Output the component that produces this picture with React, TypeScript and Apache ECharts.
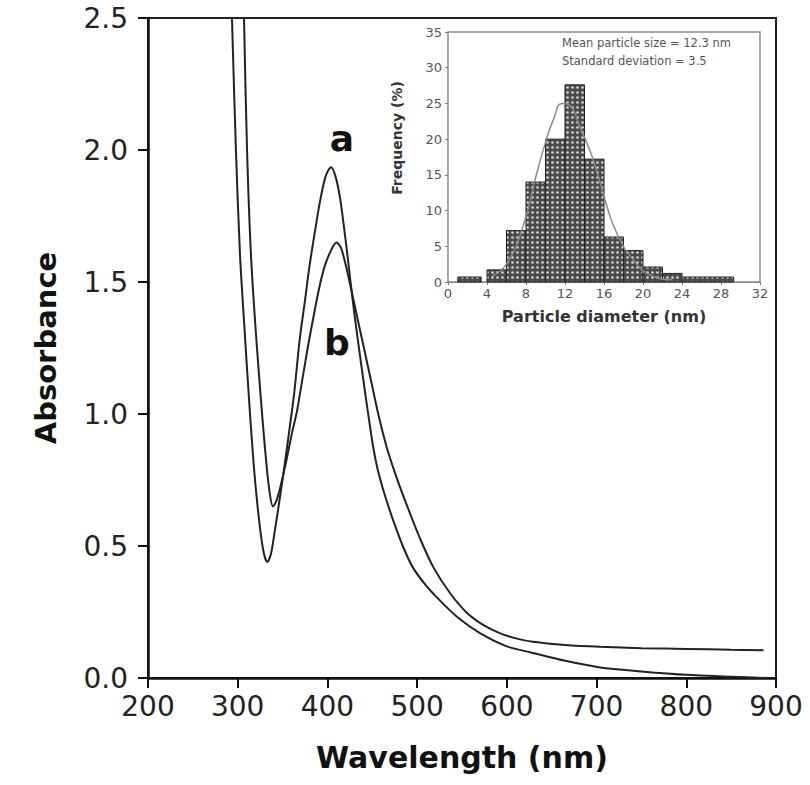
import React, { useEffect, useRef } from "react";
import * as echarts from "echarts";

// Main UV-vis spectra (wavelength in nm, absorbance)
const waveA = [293.6, 298, 302.6, 308, 313.7, 319.3, 324.8, 329.3, 333, 337, 341, 346, 352, 358, 363, 369, 375, 380, 386, 392, 398, 404, 409, 414, 418, 422, 430, 440, 445, 451, 456, 462, 468, 473, 484, 495, 510, 525, 545, 570, 600, 629, 665, 704, 750, 800, 850, 890];
const absA = [2.5, 2.0, 1.6, 1.3, 1.0, 0.75, 0.57, 0.47, 0.44, 0.47, 0.55, 0.66, 0.8, 0.95, 1.08, 1.28, 1.43, 1.56, 1.69, 1.81, 1.9, 1.935, 1.9, 1.82, 1.72, 1.61, 1.38, 1.13, 1.01, 0.875, 0.79, 0.715, 0.65, 0.6, 0.5, 0.42, 0.35, 0.295, 0.23, 0.17, 0.12, 0.095, 0.065, 0.04, 0.025, 0.012, 0.005, 0.0];

const waveB = [307, 310.4, 314.8, 320.4, 326, 330.4, 334.9, 339.3, 343, 348, 354, 360, 366, 372, 378, 384, 391, 397, 404, 410, 415, 420, 426, 433, 441, 449, 457, 466, 477, 489, 503, 518, 537, 556, 574, 592, 610, 629, 665, 704, 750, 800, 850, 886];
const absB = [2.5, 2.0, 1.6, 1.3, 1.05, 0.87, 0.72, 0.65, 0.67, 0.73, 0.82, 0.92, 1.01, 1.13, 1.25, 1.36, 1.48, 1.56, 1.62, 1.65, 1.63, 1.57, 1.48, 1.37, 1.245, 1.12, 0.995, 0.875, 0.76, 0.65, 0.53, 0.42, 0.32, 0.245, 0.2, 0.17, 0.15, 0.137, 0.125, 0.118, 0.113, 0.11, 0.107, 0.105];

// Inset histogram (particle diameter bins in nm, frequency %)
const binStart = [1, 4, 6, 8, 10, 12, 14, 16, 18, 20, 22, 24];
const binEnd = [3.4, 6, 8, 10, 12, 14, 16, 18, 20, 22, 24, 29.3];
const binFreq = [0.7, 1.7, 7.2, 14, 20, 27.6, 17.2, 6.3, 4.4, 2.1, 1.2, 0.7];

// Inset fitted distribution curve
const fitDiameter = [4.5, 6, 7.7, 9.1, 10.1, 10.8, 11.7, 12.5, 13.5, 14.9, 16.3, 17.3, 19, 21, 23];
const fitFreq = [0.8, 2.5, 7.8, 15.2, 20, 22.7, 25, 24.7, 21.8, 17.1, 10.6, 6.9, 3.1, 0.8, 0.3];

const mainTicksFmt = (v: number) => v.toFixed(1);

function makePattern() {
  const c = document.createElement("canvas");
  c.width = 5;
  c.height = 5;
  const ctx = c.getContext("2d");
  if (ctx) {
    ctx.fillStyle = "#4a4a4a";
    ctx.fillRect(0, 0, 5, 5);
    ctx.fillStyle = "#d4d4d4";
    ctx.beginPath();
    ctx.arc(2.5, 2.5, 1.35, 0, Math.PI * 2);
    ctx.fill();
  }
  return { image: c, repeat: "repeat", imageWidth: 5, imageHeight: 5 } as any;
}

export default function App() {
  const ref = useRef<HTMLDivElement>(null);

  useEffect(() => {
    if (!ref.current) return;
    const chart = echarts.init(ref.current, undefined, { renderer: "svg" });
    let pattern: any = "#666";
    try {
      pattern = makePattern();
    } catch (e) {
      pattern = "#666";
    }

    const dataA = waveA.map((w, i) => [w, absA[i]]);
    const dataB = waveB.map((w, i) => [w, absB[i]]);
    const hist = binStart.map((s, i) => [s, binEnd[i], binFreq[i]]);
    const fit = fitDiameter.map((d, i) => [d, fitFreq[i]]);

    const mainLabel = { fontSize: 28, fontFamily: "DejaVu Sans", color: "#222" };
    const insetLabel = { fontSize: 13, fontFamily: "DejaVu Sans", color: "#555" };

    chart.setOption({
      animation: false,
      backgroundColor: "#fff",
      grid: [
        { left: 148, top: 18, width: 628, height: 660, show: true, borderColor: "#222", borderWidth: 2, backgroundColor: "transparent" },
        { left: 448, top: 32, width: 312, height: 250, show: true, borderColor: "#8a8a8a", borderWidth: 1.5, backgroundColor: "#fff", z: 5 },
      ],
      xAxis: [
        {
          type: "value", gridIndex: 0, min: 200, max: 900, interval: 100,
          axisLine: { show: true, lineStyle: { color: "#111", width: 2.5 } },
          axisTick: { show: true, inside: false, length: 10, lineStyle: { color: "#111", width: 2 } },
          axisLabel: { ...mainLabel, margin: 14 },
          splitLine: { show: false },
          name: "Wavelength (nm)", nameLocation: "middle", nameGap: 64,
          nameTextStyle: { fontSize: 30, fontWeight: "bold", fontFamily: "DejaVu Sans", color: "#111" },
        },
        {
          type: "value", gridIndex: 1, min: 0, max: 32, interval: 4,
          axisLine: { show: true, lineStyle: { color: "#777", width: 1.2 } },
          axisTick: { show: true, inside: false, length: 3, lineStyle: { color: "#777" } },
          axisLabel: { ...insetLabel, margin: 5 },
          splitLine: { show: false },
          name: "Particle diameter (nm)", nameLocation: "middle", nameGap: 26,
          nameTextStyle: { fontSize: 16, fontWeight: "bold", fontFamily: "DejaVu Sans", color: "#333" },
        },
      ],
      yAxis: [
        {
          type: "value", gridIndex: 0, min: 0, max: 2.5, interval: 0.5,
          axisLine: { show: true, lineStyle: { color: "#111", width: 2.5 } },
          axisTick: { show: true, inside: false, length: 10, lineStyle: { color: "#111", width: 2 } },
          axisLabel: { ...mainLabel, margin: 20, formatter: mainTicksFmt },
          splitLine: { show: false },
          name: "Absorbance", nameLocation: "middle", nameGap: 88,
          nameTextStyle: { fontSize: 29, fontWeight: "bold", fontFamily: "DejaVu Sans", color: "#111" },
        },
        {
          type: "value", gridIndex: 1, min: 0, max: 35, interval: 5,
          axisLine: { show: true, lineStyle: { color: "#777", width: 1.2 } },
          axisTick: { show: true, inside: false, length: 3, lineStyle: { color: "#777" } },
          axisLabel: { ...insetLabel, margin: 6 },
          splitLine: { show: false },
          name: "Frequency (%)", nameLocation: "middle", nameGap: 44,
          nameTextStyle: { fontSize: 14, fontWeight: "bold", fontFamily: "DejaVu Sans", color: "#333", padding: [0, 0, 0, 38] },
        },
      ],
      series: [
        {
          name: "a", type: "line", xAxisIndex: 0, yAxisIndex: 0, data: dataA,
          showSymbol: false, smooth: 0.3, clip: true,
          lineStyle: { color: "#222", width: 2 },
          markPoint: {
            symbol: "circle", symbolSize: 1, itemStyle: { color: "transparent" },
            label: { show: true, position: "inside", formatter: "a", fontSize: 36, fontWeight: "bold", fontFamily: "DejaVu Sans", color: "#111" },
            data: [{ coord: [416, 2.045] }],
          },
        },
        {
          name: "b", type: "line", xAxisIndex: 0, yAxisIndex: 0, data: dataB,
          showSymbol: false, smooth: 0.3, clip: true,
          lineStyle: { color: "#222", width: 2 },
          markPoint: {
            symbol: "circle", symbolSize: 1, itemStyle: { color: "transparent" },
            label: { show: true, position: "inside", formatter: "b", fontSize: 36, fontWeight: "bold", fontFamily: "DejaVu Sans", color: "#111" },
            data: [{ coord: [410.5, 1.27] }],
          },
        },
        {
          name: "histogram", type: "custom", xAxisIndex: 1, yAxisIndex: 1, data: hist, z: 6,
          encode: { x: [0, 1], y: 2 },
          renderItem: (params: any, api: any) => {
            const p0 = api.coord([api.value(0), api.value(2)]);
            const p1 = api.coord([api.value(1), 0]);
            return {
              type: "rect",
              shape: { x: p0[0], y: p0[1], width: p1[0] - p0[0], height: p1[1] - p0[1] },
              style: { fill: pattern, stroke: "#222", lineWidth: 1 },
            };
          },
        },
        {
          name: "fit", type: "line", xAxisIndex: 1, yAxisIndex: 1, data: fit, z: 7,
          showSymbol: false, smooth: true,
          lineStyle: { color: "#8a8a8a", width: 1.5 },
        },
      ],
      graphic: [
        { type: "text", left: 562, top: 37, z: 10, style: { text: "Mean particle size = 12.3 nm", fontSize: 11.5, fontFamily: "DejaVu Sans", fill: "#555" } },
        { type: "text", left: 562, top: 55, z: 10, style: { text: "Standard deviation = 3.5", fontSize: 11.5, fontFamily: "DejaVu Sans", fill: "#555" } },
      ],
    });

    return () => chart.dispose();
  }, []);

  return <div ref={ref} style={{ position: "fixed", left: 0, top: 0, width: 810, height: 785 }} />;
}
